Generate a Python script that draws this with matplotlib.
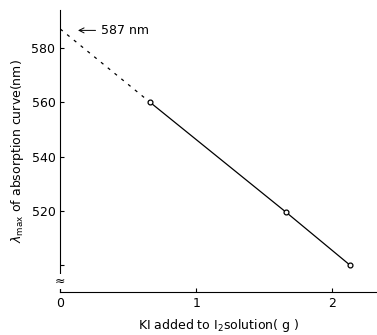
import matplotlib.pyplot as plt

# dados
ki_g = [0.66, 1.66, 2.13]
lam_max = [560, 519.5, 500]
ki_extrap = [0.0, 0.66]
lam_extrap = [587, 560]

yticks = [500, 520, 540, 560, 580]
yticklabels = ['', '520', '540', '560', '580']
xticks = [0, 1, 2]

fig = plt.figure(figsize=(3.77, 3.35), dpi=100)
ax = fig.add_axes([0.16, 0.128, 0.84, 0.842])

ax.plot(ki_extrap, lam_extrap, '--', color='black', lw=0.9, dashes=(2.5, 4.5))
ax.plot(ki_g, lam_max, '-', color='black', lw=0.9, marker='o', ms=3.5,
        mfc='white', mec='black', mew=0.9)

ax.set_xlim(0, 2.33)
ax.set_ylim(490, 594)
ax.set_xticks(xticks)
ax.set_yticks(yticks)
ax.set_yticklabels(yticklabels)
ax.tick_params(direction='in', length=3, labelsize=9)

for s in ['top', 'right']:
    ax.spines[s].set_visible(False)

ax.annotate('587 nm', xy=(0.13, 586.5), xytext=(0.30, 586.5),
            fontsize=9, va='center',
            arrowprops=dict(arrowstyle='->', color='black', lw=0.7,
                            shrinkA=2, shrinkB=0))
ax.text(-0.005, 494, '≈', fontsize=9, ha='center', va='center',
        transform=ax.transData, clip_on=False,
        bbox=dict(fc='white', ec='none', pad=0.5))

ax.set_xlabel('KI added to I$_2$solution( g )', fontsize=9, labelpad=5)
ax.set_ylabel(r'$\lambda_{\rm max}$ of absorption curve(nm)', fontsize=9,
              labelpad=4)

fig.savefig('out.png', dpi=100)
